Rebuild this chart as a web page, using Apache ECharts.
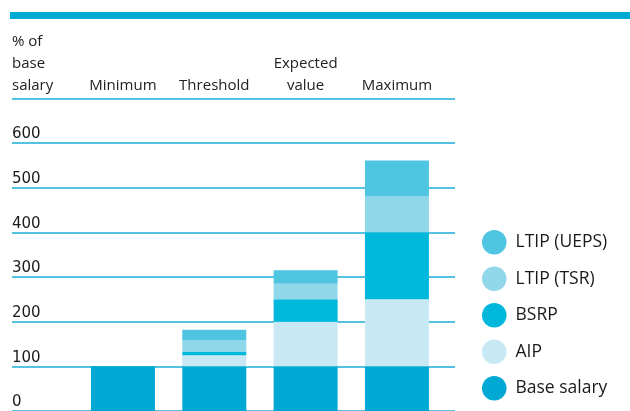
<!DOCTYPE html>
<html>
<head>
<meta charset="utf-8">
<script src="https://cdn.jsdelivr.net/npm/echarts@6/dist/echarts.min.js"></script>
<style>html,body{margin:0;padding:0;background:#fff}#c{width:630px;height:411px}</style>
</head>
<body>
<div id="c"></div>
<script>
const categories = ['Minimum', 'Threshold', 'Expected\nvalue', 'Maximum'];
const baseSalary = [100, 100, 100, 100];
const aip = [0, 25, 100, 150];
const bsrp = [0, 8, 50, 150];
const ltipTsr = [0, 25, 35, 80];
const ltipUeps = [0, 24, 30, 81];
const yTicks = [0, 100, 200, 300, 400, 500, 600];
const yMax = 700;

const font = '"Open Sans", sans-serif';
const numFont = '"DejaVu Sans", sans-serif';
const lineColor = '#1badd6';
const colors = {
  base: '#00a9d4', aip: '#c8e8f3', bsrp: '#00b8dc', tsr: '#90d7e9', ueps: '#4fc5e1'
};

const chart = echarts.init(document.getElementById('c'), null, {renderer: 'canvas'});
const gTop = 98.3, gH = 315.4;
function bar(name, data, color) {
  return {
    name: name, type: 'bar', stack: 'a', xAxisIndex: 1, yAxisIndex: 1,
    data: data, barWidth: 64, itemStyle: {color: color}, emphasis: {disabled: true}
  };
}
chart.setOption({
  animation: false,
  graphic: [{
    type: 'rect', left: 10, top: 12, shape: {width: 620, height: 7},
    style: {fill: '#00aad4'}
  }],
  grid: [
    {left: 12, top: gTop, width: 443, height: gH},
    {left: 77.3, top: gTop, width: 365.3, height: gH}
  ],
  xAxis: [
    {gridIndex: 0, type: 'value', min: 0, max: 1, show: false},
    {gridIndex: 1, type: 'category', data: categories, position: 'top',
     axisLine: {show: false}, axisTick: {show: false},
     axisLabel: {interval: 0, margin: 1, color: '#222', fontFamily: font, fontSize: 15, lineHeight: 22.3}}
  ],
  yAxis: [
    {gridIndex: 0, type: 'value', min: 0, max: yMax, interval: 100,
     name: '% of\nbase\nsalary', nameLocation: 'end', nameGap: 1,
     nameTextStyle: {align: 'left', verticalAlign: 'bottom', color: '#222', fontFamily: font, fontSize: 15, lineHeight: 22.3},
     axisLine: {show: false}, axisTick: {show: false},
     splitLine: {lineStyle: {color: lineColor, width: 1.6}},
     axisLabel: {margin: 0, align: 'left', verticalAlign: 'bottom', padding: [0, 0, 1, 0],
       color: '#1a1a1a', fontFamily: numFont, fontSize: 15,
       formatter: v => yTicks.includes(v) ? String(v) : ''}},
    {gridIndex: 1, type: 'value', min: 0, max: yMax, show: false}
  ],
  legend: {
    orient: 'vertical', left: 482, top: 230, padding: 0, icon: 'circle',
    itemWidth: 24.5, itemHeight: 24.5, itemGap: 12,
    data: ['LTIP (UEPS)', 'LTIP (TSR)', 'BSRP', 'AIP', 'Base salary'],
    textStyle: {color: '#1a1a1a', fontFamily: font, fontSize: 17.5, padding: [0, 0, 0, 4]}
  },
  series: [
    bar('Base salary', baseSalary, colors.base),
    bar('AIP', aip, colors.aip),
    bar('BSRP', bsrp, colors.bsrp),
    bar('LTIP (TSR)', ltipTsr, colors.tsr),
    bar('LTIP (UEPS)', ltipUeps, colors.ueps)
  ]
});
</script>
</body>
</html>
